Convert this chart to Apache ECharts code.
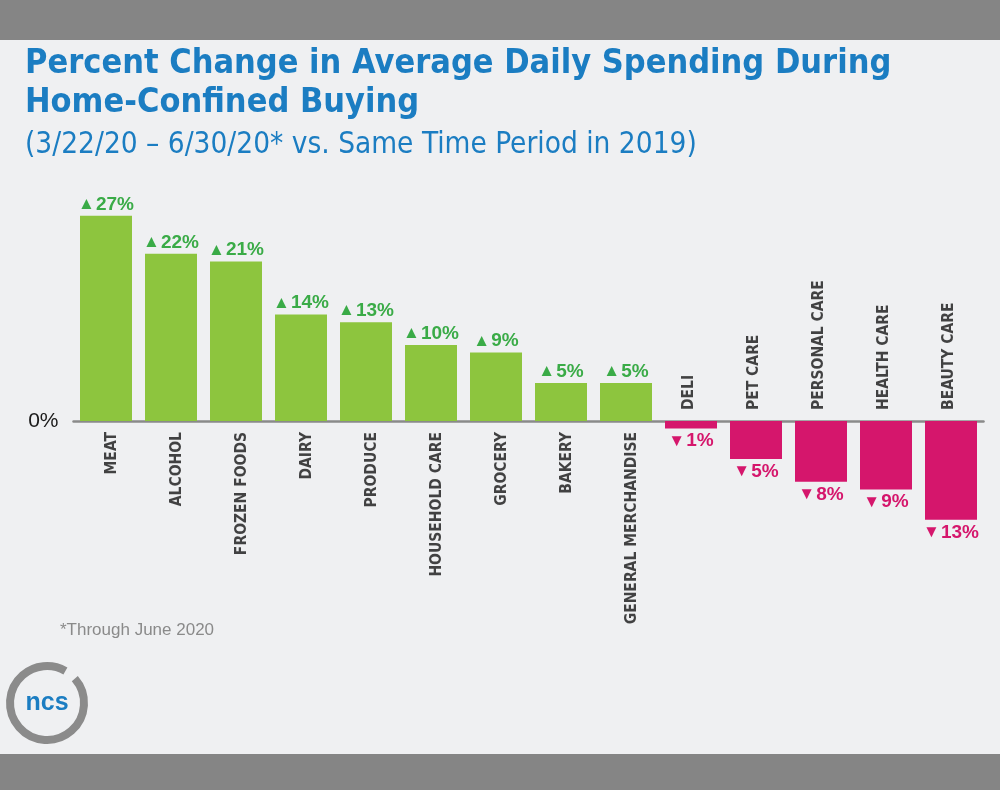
<!DOCTYPE html>
<html>
<head>
<meta charset="utf-8">
<script src="https://cdn.jsdelivr.net/npm/echarts@6/dist/echarts.min.js"></script>
<style>
html,body{margin:0;padding:0;background:#eff0f2;}
#c{width:1000px;height:790px;}
</style>
</head>
<body>
<div id="c"></div>
<script>
var categories = ['MEAT','ALCOHOL','FROZEN FOODS','DAIRY','PRODUCE','HOUSEHOLD CARE','GROCERY','BAKERY','GENERAL MERCHANDISE','DELI','PET CARE','PERSONAL CARE','HEALTH CARE','BEAUTY CARE'];
var values = [27, 22, 21, 14, 13, 10, 9, 5, 5, -1, -5, -8, -9, -13];
var yTicks = {min: -20, max: 30, interval: 10};

var GREEN_BAR = '#8dc53e', GREEN_TXT = '#3aab47', PINK = '#d5166c';
var COND = '"Liberation Sans Narrow","DejaVu Sans Condensed","Roboto Condensed","Arial Narrow",sans-serif';
var SANS = '"Liberation Sans",Arial,sans-serif';

var chart = echarts.init(document.getElementById('c'), null, {renderer: 'canvas'});

var barData = values.map(function (v) {
  var pos = v >= 0;
  return {
    value: v,
    itemStyle: {color: pos ? GREEN_BAR : PINK},
    label: {
      position: pos ? 'top' : 'bottom',
      distance: pos ? 2 : 3,
      formatter: (pos ? '{t|▲}' : '{t|▼}') + '{n|' + Math.abs(v) + '%}',
      rich: {
        t: {fontSize: 17, color: pos ? GREEN_TXT : PINK, padding: [0, 1, 0, 0]},
        n: {fontSize: 19, fontWeight: 'bold', color: pos ? GREEN_TXT : PINK, fontFamily: SANS}
      }
    }
  };
});

// category name labels, anchored on the zero line
var nameData = categories.map(function (c, i) {
  var pos = values[i] >= 0;
  return {
    value: [c, 0],
    label: {
      show: true,
      formatter: c,
      rotate: 90,
      position: pos ? 'bottom' : 'top',
      distance: 11,
      align: pos ? 'right' : 'left',
      verticalAlign: 'middle',
      fontFamily: COND, fontSize: 15.5, fontWeight: 'bold', color: '#151515',
      offset: [0, pos ? 6 : -2.5]
    }
  };
});

chart.setOption({
  backgroundColor: '#eff0f2',
  animation: false,
  title: {
    text: 'Percent Change in Average Daily Spending During\nHome-Confined Buying',
    subtext: '(3/22/20 – 6/30/20* vs. Same Time Period in 2019)',
    left: 20, top: 40,
    itemGap: 5,
    textStyle: {fontFamily: COND, fontWeight: 'bold', fontSize: 34, color: '#1b7dc2', lineHeight: 39},
    subtextStyle: {fontFamily: COND, fontSize: 29.5, color: '#1b7dc2', lineHeight: 34}
  },
  grid: {left: 73.5, right: 16.5, top: 193, bottom: 217, containLabel: false},
  xAxis: {
    type: 'category', data: categories,
    axisLine: {onZero: true, lineStyle: {color: '#8a8a8a', width: 2.5}},
    axisTick: {show: false},
    axisLabel: {show: false}
  },
  yAxis: {
    type: 'value', min: yTicks.min, max: yTicks.max, interval: yTicks.interval,
    splitLine: {show: false}, axisLine: {show: false}, axisTick: {show: false},
    axisLabel: {
      margin: 15, fontSize: 21, color: '#1a1a1a', fontFamily: SANS,
      formatter: function (v) { return v === 0 ? '0%' : ''; }
    }
  },
  series: [{
    type: 'bar', data: barData, barWidth: '80%',
    label: {show: true}
  }, {
    type: 'scatter', data: nameData, symbolSize: 0, silent: true, z: 5
  }],
  graphic: [
    {type: 'rect', shape: {x: 0, y: 0, width: 1000, height: 40}, style: {fill: '#858585'}},
    {type: 'rect', shape: {x: 0, y: 754, width: 1000, height: 36}, style: {fill: '#858585'}},
    {type: 'text', left: 60, top: 622, style: {text: '*Through June 2020', fill: '#8a8a8a', font: '17px ' + SANS}},
    {type: 'arc', shape: {cx: 47, cy: 703, r: 37, startAngle: -0.72, endAngle: -1.05 + Math.PI * 2, clockwise: true}, style: {stroke: '#8b8b8b', lineWidth: 8, fill: 'none'}},
    {type: 'text', x: 47, y: 703, style: {text: 'ncs', fill: '#1b7dc2', font: 'bold 25px ' + SANS, align: 'center', verticalAlign: 'middle'}}
  ]
});
</script>
</body>
</html>
